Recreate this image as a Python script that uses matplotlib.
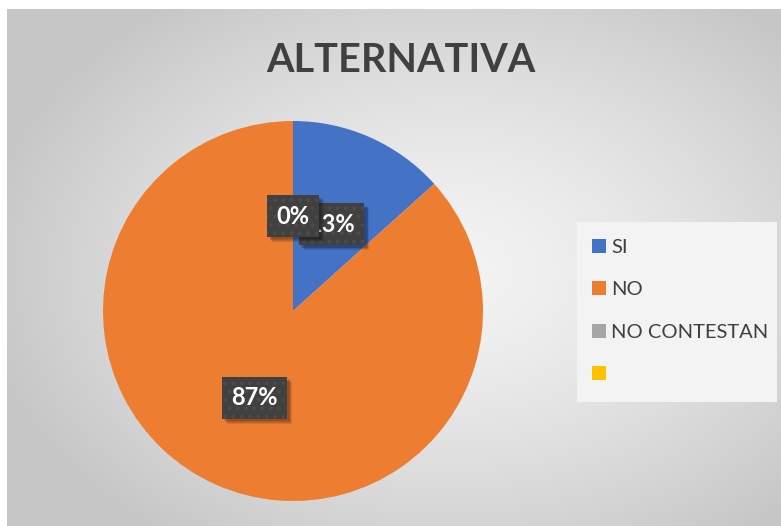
import numpy as np
import matplotlib.pyplot as plt
from matplotlib.patches import Patch, Rectangle

# data
categories = ['SI', 'NO', 'NO CONTESTAN', '']
values = [2, 13, 0]
colors = ['#4472C4', '#ED7D31', '#A5A5A5', '#FFC000']
title = 'ALTERNATIVA'

plt.rcParams['font.family'] = ['Lato', 'DejaVu Sans']

W, H = 781, 526
fig = plt.figure(figsize=(W / 100, H / 100), dpi=100)
fig.patch.set_facecolor('white')

# radial gradient background of the chart area
x0, y0 = 7, 9
bg = fig.add_axes([x0 / W, 0, (W - x0) / W, (H - y0) / H])
yy, xx = np.mgrid[y0:H, x0:W]
cx, cy = 450, 270
d = np.sqrt(((xx - cx) / 470.0) ** 2 + ((yy - cy) / 330.0) ** 2)
d = np.clip(d, 0, 1)
shade = 0.955 - 0.175 * d ** 1.4
bg.imshow(np.dstack([shade] * 3), aspect='auto', interpolation='bilinear')
bg.set_axis_off()

# pie
cxp, cyp, r = 293, 311, 190
ax = fig.add_axes([(cxp - r) / W, (H - cyp - r) / H, 2 * r / W, 2 * r / H])
wedges, texts, autotexts = ax.pie(
    values, colors=colors[:3], startangle=90, counterclock=False,
    autopct=lambda p: '%d%%' % round(p), pctdistance=0.5,
    wedgeprops=dict(linewidth=0),
    textprops=dict(color='white', fontsize=17, fontweight='bold'))
ax.set_xlim(-1, 1)
ax.set_ylim(-1, 1)
ax.set_aspect('auto')
ax.axis('off')

# data label boxes
plt.rcParams['hatch.linewidth'] = 1.6
z = 5
for t in autotexts:
    t.set_zorder(z + 1)
    t.set_bbox(dict(boxstyle='square,pad=0.4', facecolor='#404040',
                    edgecolor='#4b4b4b', linewidth=0, hatch='..'))
    z += 2

# soft shadow behind each label box, taken from the drawn box extent
fig.canvas.draw()
z = 5
for t in autotexts:
    bb = t.get_bbox_patch().get_window_extent()
    for k in range(4):
        o = 2.5 + k * 0.8
        ax.add_patch(Rectangle(((bb.x0 + o) / W, (bb.y0 - o) / H), bb.width / W, bb.height / H,
                               transform=fig.transFigure, facecolor='black', alpha=0.1,
                               linewidth=0, zorder=z, clip_on=False))
    z += 2

fig.text(401 / W, 1 - 60 / H, title, ha='center', va='center',
         fontsize=28.5, fontweight='bold', color='#404040')

# legend box
fig.patches.append(Rectangle((577 / W, 1 - 402 / H), 200 / W, 180 / H,
                             transform=fig.transFigure, facecolor='#f3f3f3',
                             edgecolor='none', zorder=1))
handles = [Patch(facecolor=c, edgecolor='none') for c in colors]
leg = fig.legend(handles, categories, loc='upper left',
                 bbox_to_anchor=(582 / W, 1 - 229 / H), frameon=False,
                 fontsize=14.5, labelspacing=1.25, handlelength=0.7,
                 handleheight=0.7, handletextpad=0.25, borderpad=0)
for t in leg.get_texts():
    t.set_color('#404040')

fig.savefig('out.png', dpi=100)
